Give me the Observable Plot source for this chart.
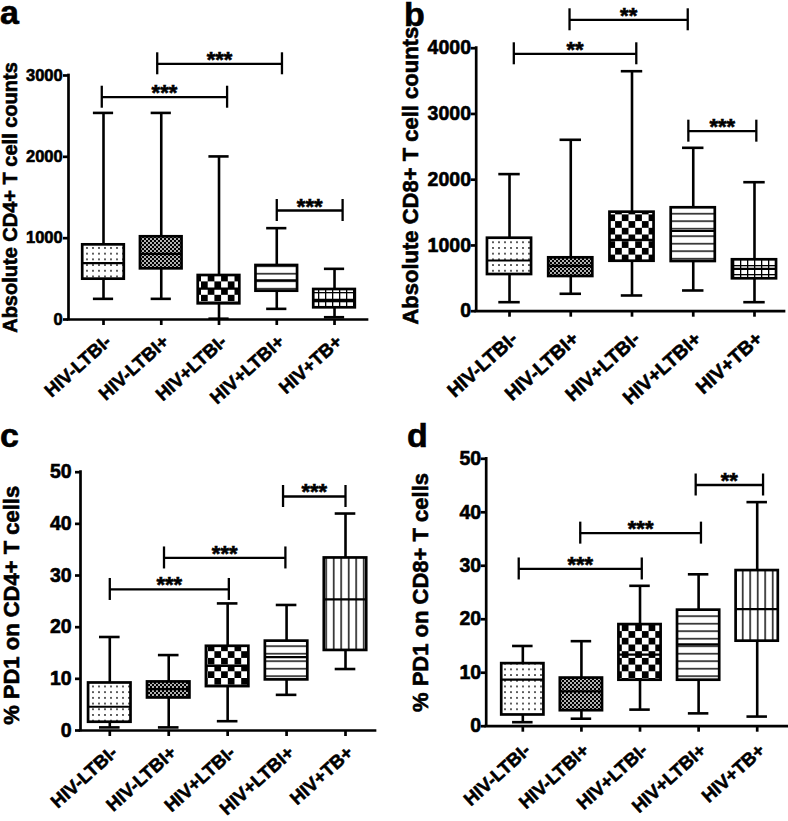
<!DOCTYPE html>
<html><head><meta charset="utf-8">
<script src="https://cdn.jsdelivr.net/npm/d3@7"></script>
<script src="https://cdn.jsdelivr.net/npm/@observablehq/plot@0.6"></script>
<style>
html,body{margin:0;padding:0;background:#fff;}
#wrap{position:relative;width:788px;height:821px;overflow:hidden;font-family:"Liberation Sans",Arial,sans-serif;}
#wrap > svg.panel{position:absolute;}
#wrap svg text{stroke:black;stroke-width:0.6px;}
#letters{position:absolute;left:0;top:0;pointer-events:none;}
</style></head><body>
<svg width="0" height="0" style="position:absolute;left:0;top:0">
  <defs>
    <pattern id="pDots" patternUnits="userSpaceOnUse" width="6" height="5.7">
      <rect width="6" height="5.7" fill="white"/>
      <circle cx="3" cy="2.85" r="0.85" fill="black"/>
    </pattern>
    <pattern id="pFine" patternUnits="userSpaceOnUse" width="4" height="4">
      <rect width="4" height="4" fill="black"/>
      <circle cx="1" cy="1" r="0.95" fill="white"/>
      <circle cx="3" cy="3" r="0.95" fill="white"/>
    </pattern>
    <pattern id="pCheck" patternUnits="userSpaceOnUse" width="13.4" height="13.4">
      <rect width="13.4" height="13.4" fill="white"/>
      <rect x="0" y="0" width="6.7" height="6.7" fill="black"/>
      <rect x="6.7" y="6.7" width="6.7" height="6.7" fill="black"/>
    </pattern>
    <pattern id="pHoriz" patternUnits="userSpaceOnUse" width="7" height="7.5">
      <rect width="7" height="7.5" fill="white"/>
      <rect x="0" y="3" width="7" height="1.4" fill="black"/>
    </pattern>
    <pattern id="pGrid" patternUnits="userSpaceOnUse" width="7" height="9">
      <rect width="7" height="9" fill="white"/>
      <rect x="3" y="0" width="1.3" height="9" fill="black"/>
      <rect x="0" y="4" width="7" height="1.3" fill="black"/>
    </pattern>
    <pattern id="pVert" patternUnits="userSpaceOnUse" width="7.5" height="7.5">
      <rect width="7.5" height="7.5" fill="white"/>
      <rect x="3" y="0" width="1.4" height="7.5" fill="black"/>
    </pattern>
  </defs>
</svg>
<div id="wrap">
  <svg id="letters" width="788" height="821" font-family="Liberation Sans, Arial, sans-serif" font-weight="bold" font-size="34">
    <text x="0" y="24">a</text>
    <text x="404" y="26">b</text>
    <text x="0" y="447">c</text>
    <text x="407" y="447">d</text>
  </svg>
</div>
<script>
const categories = ["HIV-LTBI-", "HIV-LTBI+", "HIV+LTBI-", "HIV+LTBI+", "HIV+TB+"];

// Panel a: Absolute CD4+ T cell counts
const aMin = [254, 254, 10, 131, 28];
const aQ1 = [496, 623, 193, 348, 144];
const aMedian = [692, 808, 380, 480, 242];
const aQ3 = [918, 1017, 541, 664, 369];
const aMax = [2540, 2540, 2005, 1123, 623];
const aTicks = [0, 1000, 2000, 3000];
const aBracketFrom = [-0.03, 0.93, 3.0];
const aBracketTo = [2.14, 3.09, 4.14];
const aBracketY = [2733, 3144, 1340];
const aBracketLabel = ["***", "***", "***"];

// Panel b: Absolute CD8+ T cell counts
const bMin = [137, 265, 239, 315, 137];
const bQ1 = [558, 528, 760, 756, 493];
const bMedian = [771, 690, 1086, 1220, 645];
const bQ3 = [1110, 812, 1506, 1573, 782];
const bMax = [2085, 2607, 3650, 2485, 1962];
const bTicks = [0, 1000, 2000, 3000, 4000];
const bBracketFrom = [0.07, 0.98, 2.92];
const bBracketTo = [2.07, 2.91, 4.03];
const bBracketY = [3915, 4432, 2738];
const bBracketLabel = ["**", "**", "***"];

// Panel c: % PD1 on CD4+ T cells
const cMin = [0.6, 0.6, 1.8, 6.9, 11.9];
const cQ1 = [1.6, 6.3, 8.5, 9.8, 15.5];
const cMedian = [4.6, 8.0, 12.5, 14.2, 25.4];
const cQ3 = [9.2, 9.4, 16.3, 17.3, 33.4];
const cMax = [18.1, 14.6, 24.6, 24.3, 42.0];
const cTicks = [0, 10, 20, 30, 40, 50];
const cBracketFrom = [0, 0.92, 2.94];
const cBracketTo = [2.02, 2.98, 4.0];
const cBracketY = [27.3, 33.4, 45.3];
const cBracketLabel = ["***", "***", "***"];

// Panel d: % PD1 on CD8+ T cells
const dMin = [0.75, 1.4, 3.1, 2.4, 1.8];
const dQ1 = [2.1, 2.9, 8.6, 8.6, 15.9];
const dMedian = [8.7, 6.5, 13.4, 15.3, 21.9];
const dQ3 = [11.7, 9.0, 19.0, 21.7, 29.1];
const dMax = [15.0, 15.9, 26.25, 28.4, 41.9];
const dTicks = [0, 10, 20, 30, 40, 50];
const dBracketFrom = [-0.07, 0.98, 2.95];
const dBracketTo = [2.03, 3.04, 4.1];
const dBracketY = [29.4, 36.1, 45.1];
const dBracketLabel = ["***", "***", "**"];

// styles (fill patterns per group)
const fillsAB = ["url(#pDots)", "url(#pFine)", "url(#pCheck)", "url(#pHoriz)", "url(#pGrid)"];
const fillsCD = ["url(#pDots)", "url(#pFine)", "url(#pCheck)", "url(#pHoriz)", "url(#pVert)"];

const FONT = "'Liberation Sans', Arial, Helvetica, sans-serif";

function boxPanel(o) {
  const idx = d3.range(categories.length);
  const br = d3.range(o.bFrom.length);
  const [y0, y1] = o.yDomain;
  const plotH = o.height - o.mt - o.mb;
  const endHalf = 11 * (y1 - y0) / plotH;
  const capHalf = 0.175, boxHalf = 0.36;
  const lw = 2.7;
  const svg = Plot.plot({
    width: o.width, height: o.height,
    marginLeft: o.ml, marginRight: o.mr, marginTop: o.mt, marginBottom: o.mb,
    x: {type: "linear", domain: o.xDomain},
    y: {type: "linear", domain: o.yDomain},
    color: {type: "identity"},
    style: {fontFamily: FONT, fontWeight: "bold", background: "transparent", overflow: "visible", color: "black"},
    marks: [
      // whiskers and caps
      Plot.ruleX(idx, {x: i => i, y1: i => o.min[i], y2: i => o.max[i], stroke: "black", strokeWidth: 2.6}),
      Plot.ruleY(idx, {y: i => o.max[i], x1: i => i - capHalf, x2: i => i + capHalf, stroke: "black", strokeWidth: 2.6}),
      Plot.ruleY(idx, {y: i => o.min[i], x1: i => i - capHalf, x2: i => i + capHalf, stroke: "black", strokeWidth: 2.6}),
      // boxes
      Plot.rect(idx, {x1: i => i - boxHalf, x2: i => i + boxHalf, y1: i => o.q1[i], y2: i => o.q3[i],
        fill: i => o.fills[i], stroke: "black", strokeWidth: lw}),
      // medians
      Plot.ruleY(idx, {y: i => o.med[i], x1: i => i - boxHalf, x2: i => i + boxHalf, stroke: "black", strokeWidth: 2.2}),
      // significance brackets
      Plot.ruleY(br, {y: j => o.bY[j], x1: j => o.bFrom[j], x2: j => o.bTo[j], stroke: "black", strokeWidth: 2.3}),
      Plot.ruleX(br, {x: j => o.bFrom[j], y1: j => o.bY[j] - endHalf, y2: j => o.bY[j] + endHalf, stroke: "black", strokeWidth: 2.3}),
      Plot.ruleX(br, {x: j => o.bTo[j], y1: j => o.bY[j] - endHalf, y2: j => o.bY[j] + endHalf, stroke: "black", strokeWidth: 2.3}),
      Plot.text(br, {x: j => (o.bFrom[j] + o.bTo[j]) / 2, y: j => o.bY[j], text: j => o.bLabel[j],
        lineAnchor: "bottom", dy: 3, fontSize: 22, fontWeight: "bold", fill: "black"}),
      // axes
      Plot.axisY({ticks: o.yTicks, tickSize: 5, tickPadding: o.yPad, strokeWidth: lw, fontSize: o.tickFont, label: null, tickFormat: d => String(d)}),
      Plot.axisX({ticks: idx, tickFormat: i => categories[i], tickRotate: -42, tickSize: 6, tickPadding: o.xPad,
        textAnchor: "end", lineAnchor: "top", strokeWidth: lw, fontSize: o.catFont, label: null}),
      Plot.ruleY([y0], {stroke: "black", strokeWidth: lw, strokeLinecap: "square"}),
      Plot.ruleX([o.xDomain[0]], {stroke: "black", strokeWidth: lw, strokeLinecap: "square"}),
      // y title
      Plot.text([o.title], {frameAnchor: "left", rotate: -90, dx: o.titleDx, dy: o.titleDy, fontSize: o.titleFont,
        lineAnchor: "middle", textAnchor: "middle", fontWeight: "bold", fill: "black"})
    ]
  });
  svg.classList.add("panel");
  svg.style.left = o.left + "px";
  svg.style.top = o.top + "px";
  return svg;
}

const wrap = document.getElementById("wrap");
const letters = document.getElementById("letters");
const panels = [];

panels.push(boxPanel({
  left: 0, top: 0, width: 394, height: 410, ml: 68, mr: 27, mt: 75, mb: 91,
  xDomain: [-0.606, 4.571], yDomain: [0, 3000], yTicks: aTicks,
  min: aMin, q1: aQ1, med: aMedian, q3: aQ3, max: aMax,
  bFrom: aBracketFrom, bTo: aBracketTo, bY: aBracketY, bLabel: aBracketLabel,
  fills: fillsAB, title: "Absolute CD4+ T cell counts",
  tickFont: 16.5, catFont: 18.5, titleFont: 20, titleDx: -58, titleDy: 0, yPad: 0.8, xPad: 8
}));
panels.push(boxPanel({
  left: 394, top: 0, width: 394, height: 410, ml: 81.7, mr: 4, mt: 47.7, mb: 99.3,
  xDomain: [-0.544, 4.49], yDomain: [0, 4000], yTicks: bTicks,
  min: bMin, q1: bQ1, med: bMedian, q3: bQ3, max: bMax,
  bFrom: bBracketFrom, bTo: bBracketTo, bY: bBracketY, bLabel: bBracketLabel,
  fills: fillsAB, title: "Absolute CD8+ T cell counts",
  tickFont: 19.5, catFont: 19.5, titleFont: 22, titleDx: -65.7, titleDy: -4, yPad: 0.2, xPad: 13
}));
panels.push(boxPanel({
  left: 0, top: 410, width: 394, height: 411, ml: 80, mr: 19, mt: 61.7, mb: 91,
  xDomain: [-0.497, 4.509], yDomain: [0, 50], yTicks: cTicks,
  min: cMin, q1: cQ1, med: cMedian, q3: cQ3, max: cMax,
  bFrom: cBracketFrom, bTo: cBracketTo, bY: cBracketY, bLabel: cBracketLabel,
  fills: fillsCD, title: "% PD1 on CD4+ T cells",
  tickFont: 19.5, catFont: 18.5, titleFont: 22, titleDx: -68.5, titleDy: 4, yPad: 3.8, xPad: 8
}));
panels.push(boxPanel({
  left: 394, top: 410, width: 394, height: 411, ml: 91.7, mr: 1, mt: 48.3, mb: 95.3,
  xDomain: [-0.625, 4.517], yDomain: [0, 50], yTicks: dTicks,
  min: dMin, q1: dQ1, med: dMedian, q3: dQ3, max: dMax,
  bFrom: dBracketFrom, bTo: dBracketTo, bY: dBracketY, bLabel: dBracketLabel,
  fills: fillsCD, title: "% PD1 on CD8+ T cells",
  tickFont: 19.5, catFont: 18.5, titleFont: 22, titleDx: -65.7, titleDy: 0, yPad: 0, xPad: 10
}));
for (const p of panels) wrap.insertBefore(p, letters);
</script>
</body></html>
